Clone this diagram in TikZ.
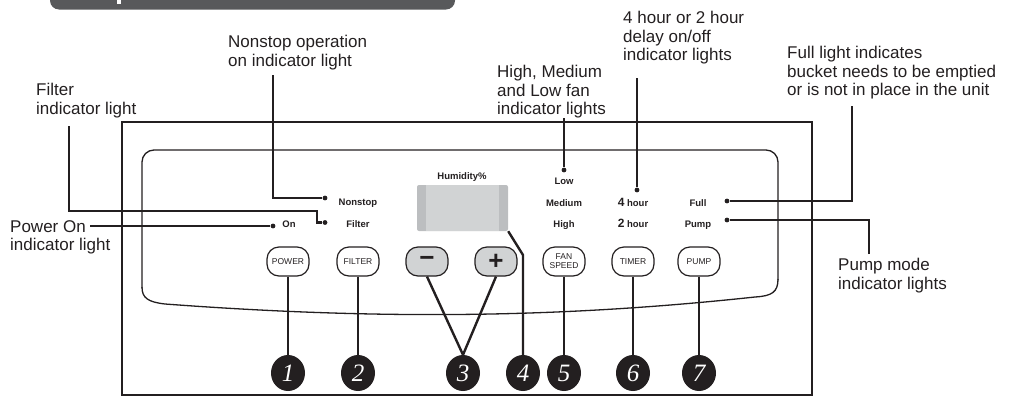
\documentclass[tikz,border=0pt]{standalone}
\usepackage{fontspec}
\setmainfont{Liberation Sans}
\newfontfamily\digitfont{Liberation Serif}
\usepackage{tikz}
\usetikzlibrary{shapes.geometric}
\definecolor{Ink}{HTML}{231F20}
\definecolor{Bar}{HTML}{58595B}
\definecolor{Lcd}{HTML}{D1D3D4}
\definecolor{LcdEdge}{HTML}{BCBEC0}
\definecolor{Key}{HTML}{D1D3D4}

\begin{document}
\begin{tikzpicture}[x=1pt, y=-1pt,
    every node/.style={text=Ink},
    callout/.style={anchor=north west, inner sep=0pt, align=left, font=\fontsize{17}{18.5}\selectfont},
    tag/.style={anchor=base, inner sep=0pt, font=\fontsize{9.5}{10}\selectfont\bfseries},
    lamp/.style={circle, fill=Ink, inner sep=0pt, minimum size=4.8pt},
    leader/.style={draw=Ink, line width=2.4pt},
    btn/.style={draw=Ink, line width=1.2pt, rounded corners=12pt, minimum width=42pt, minimum height=29pt, inner sep=0pt, align=center, font=\fontsize{8.5}{9}\selectfont},
    signkey/.style={btn, fill=Key, font=\fontsize{26}{26}\selectfont\bfseries},
    numdot/.style={ellipse, fill=Ink, minimum width=34pt, minimum height=36pt, inner sep=0pt, text=white, font=\fontsize{25}{25}\selectfont\digitfont\itshape}]
      \useasboundingbox (0,0) rectangle (1011,399);
      \begin{scope}
        \clip (0,0) rectangle (1011,399);
        \fill[Bar, rounded corners=9pt] (50,-20) rectangle (455,9.5);
        \fill[white] (117,0) rectangle (121,4);
      \end{scope}
      \draw[Ink, line width=2.3pt] (122,122) rectangle (812,395);
      \draw[Ink, line width=1.3pt, rounded corners=12pt] (142,288) -- (142,150) -- (778,150) -- (778,280);
      \draw[Ink, line width=1.3pt] (142,287) .. controls (142,298) and (148,302) .. (165,304)
        .. controls (380,320) and (560,318) .. (755,297)
        .. controls (772,296) and (778,292) .. (778,279);

      \fill[LcdEdge, rounded corners=2pt] (417,185) rectangle (508,231);
      \fill[Lcd] (426,185) rectangle (499,231);
      \node[minimum width=91pt, minimum height=46pt, inner sep=0pt] (lcd) at (462.5,208) {};
      \node[tag] (thum) at (462,179) {Humidity\%};

      \node[callout] (lblfilter) at (36,83) {Filter\\indicator light};
      \node[callout] (lblnonstop) at (228,35) {Nonstop operation\\on indicator light};
      \node[callout] (lblpower) at (10,220) {Power On\\indicator light};
      \node[callout] (lblfan) at (497,65) {High, Medium\\and Low fan\\indicator lights};
      \node[callout] (lbltimer) at (623,11) {4 hour or 2 hour\\delay on/off\\indicator lights};
      \node[callout] (lblfull) at (787,46) {Full light indicates\\bucket needs to be emptied\\or is not in place in the unit};
      \node[callout] (lblpump) at (838,258) {Pump mode\\indicator lights};

      \node[tag] (ton) at (289,227.5) {On};
      \node[tag] (tnonstop) at (358,205.5) {Nonstop};
      \node[tag] (tfilter) at (358,227.5) {Filter};
      \node[tag] (tlow) at (564,184) {Low};
      \node[tag] (tmed) at (564,206) {Medium};
      \node[tag] (thigh) at (564,227.5) {High};
      \node[tag] (tfour) at (633,206) {{\fontsize{12}{12}\selectfont 4} hour};
      \node[tag] (ttwo) at (633,227.5) {{\fontsize{12}{12}\selectfont 2} hour};
      \node[tag] (tfull) at (698,206) {Full};
      \node[tag] (tpump) at (698,227.5) {Pump};

      \node[lamp] (don) at (273,226) {};
      \node[lamp] (dnonstop) at (325,198) {};
      \node[lamp] (dfilter) at (325,222.5) {};
      \node[lamp] (dlow) at (564,170) {};
      \node[lamp] (dfour) at (637,190) {};
      \node[lamp] (dfull) at (727,201) {};
      \node[lamp] (dpump) at (727,220) {};

      \coordinate (kfilter) at (69,126);
      \coordinate (knonstop) at (273,75);
      \coordinate (kpower) at (90,226);
      \coordinate (klow) at (564,118);
      \coordinate (kfour) at (637,78);
      \coordinate (kfull) at (852,106);
      \coordinate (kpump) at (869,254);
      \draw[leader] (kfilter) |- (317,211) |- (dfilter);
      \draw[leader] (knonstop) |- (dnonstop);
      \draw[leader] (kpower) -- (don);
      \draw[leader] (klow) -- (dlow);
      \draw[leader] (kfour) -- (dfour);
      \draw[leader] (kfull) |- (dfull);
      \draw[leader] (kpump) |- (dpump);

      \node[btn] (bpower) at (288,261.5) {POWER};
      \node[btn] (bfilter) at (358,261.5) {FILTER};
      \node[signkey] (bminus) at (427,261.5) {−};
      \node[signkey] (bplus) at (496,261.5) {+};
      \node[btn] (bfan) at (564,261.5) {FAN\\SPEED};
      \node[btn] (btimer) at (633,261.5) {TIMER};
      \node[btn] (bpump) at (699,261.5) {PUMP};

      \foreach \n/\x in {1/288,2/358,3/463,4/523,5/564,6/633,7/699} {
        \node[numdot] (c\n) at (\x,373) {\n};
      }
      \coordinate (kbend) at (523,255);
      \draw[leader] (bpower) -- (c1);
      \draw[leader] (bfilter) -- (c2);
      \draw[leader] (bminus.south) -- (c3.north);
      \draw[leader] (bplus.south) -- (c3.north);
      \draw[leader] (lcd.south east) -- (kbend) -- (c4.north);
      \draw[leader] (bfan) -- (c5);
      \draw[leader] (btimer) -- (c6);
      \draw[leader] (bpump) -- (c7);
    \end{tikzpicture}
\end{document}
